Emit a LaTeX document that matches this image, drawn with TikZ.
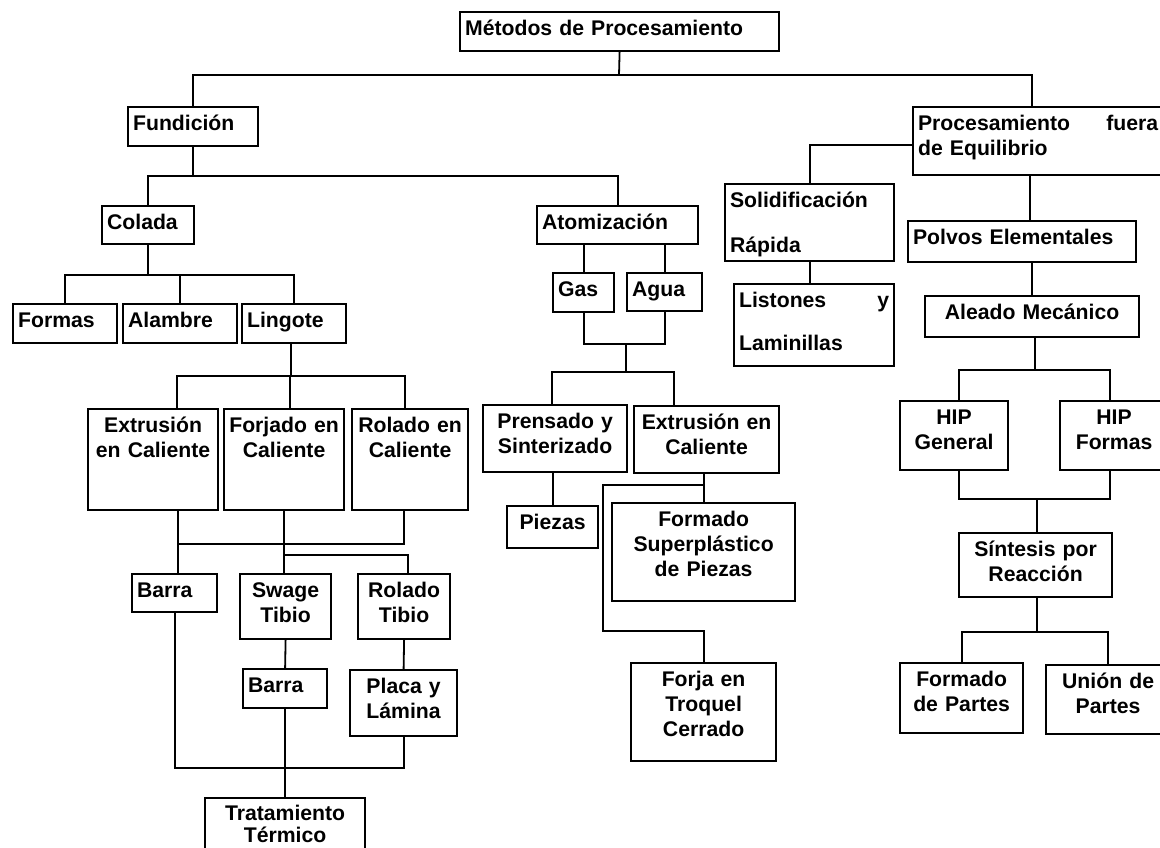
\documentclass[tikz,border=0pt]{standalone}
\usepackage{fontspec}
\setmainfont{Liberation Sans}
\tikzset{
  box/.style={draw, line width=2.2pt, anchor=north west, inner xsep=5pt, inner ysep=0pt,
    text height=23pt, font=\fontsize{21.2}{25}\selectfont\bfseries},
  lbox/.style={box, align=left},
  cbox/.style={box, align=center},
  link/.style={line width=1.8pt}
}
\begin{document}
\begin{tikzpicture}[x=1pt,y=-1pt]
      \path[use as bounding box, fill=white] (0,0) rectangle (1160,848);
      \clip (0,0) rectangle (1160,848);
      \node[lbox, text width=309pt, text depth=16pt] (met) at (459,11) {Métodos de Procesamiento};
      \node[lbox, text width=120pt, text depth=16pt] (fund) at (127,106) {Fundición};
      \node[lbox, text width=240pt, text depth=45pt] (pfe) at (912,106) {Procesamiento\hfill fuera\\de Equilibrio};
      \node[lbox, text width=82pt, text depth=15pt] (col) at (101,205) {Colada};
      \node[lbox, text width=151pt, text depth=15pt] (atom) at (536,205) {Atomización};
      \node[lbox, text width=159pt, text depth=54pt] (sol) at (724,183) {Solidificación\\[20pt]Rápida};
      \node[lbox, text width=218pt, text depth=18pt] (pol) at (907,220) {Polvos Elementales};
      \node[lbox, text width=51pt, text depth=16pt] (gas) at (552,272) {Gas};
      \node[lbox, text width=65pt, text depth=15pt] (agua) at (626,272) {Agua};
      \node[lbox, text width=150pt, text depth=59pt] (lis) at (733,283) {Listones\hfill y\\[18pt]Laminillas};
      \node[cbox, text width=204pt, text depth=18pt] (ale) at (924,295) {Aleado Mecánico};
      \node[lbox, text width=94pt, text depth=16pt] (formas) at (12,303) {Formas};
      \node[lbox, text width=104pt, text depth=16pt] (alam) at (122,303) {Alambre};
      \node[lbox, text width=94pt, text depth=16pt] (ling) at (241,303) {Lingote};
      \node[cbox, text width=120pt, text depth=78pt] (extA) at (87,408) {Extrusión\\en Caliente};
      \node[cbox, text width=110pt, text depth=78pt] (forj) at (223,408) {Forjado en\\Caliente};
      \node[cbox, text width=106pt, text depth=78pt] (rolA) at (351,408) {Rolado en\\Caliente};
      \node[cbox, text width=134pt, text depth=44pt] (pren) at (482,404) {Prensado y\\Sinterizado};
      \node[cbox, text width=135pt, text depth=44pt] (extB) at (633,405) {Extrusión en\\Caliente};
      \node[cbox, text width=98pt, text depth=46pt] (hipg) at (899,400) {HIP\\General};
      \node[cbox, text width=98pt, text depth=46pt] (hipf) at (1059,400) {HIP\\Formas};
      \node[cbox, text width=81pt, text depth=19pt] (piez) at (506,505) {Piezas};
      \node[cbox, text width=173pt, text depth=75pt] (form) at (611,502) {Formado\\Superplástico\\de Piezas};
      \node[cbox, text width=143pt, text depth=41pt] (sint) at (958,532) {Síntesis por\\Reacción};
      \node[lbox, text width=75pt, text depth=15pt] (barA) at (131,573) {Barra};
      \node[cbox, text width=81pt, text depth=42pt] (swag) at (239,573) {Swage\\Tibio};
      \node[cbox, text width=82pt, text depth=42pt] (rolB) at (357,573) {Rolado\\Tibio};
      \node[cbox, text width=135pt, text depth=75pt] (forja) at (630,662) {Forja en\\Troquel\\Cerrado};
      \node[cbox, text width=113pt, text depth=47pt] (fpar) at (899,662) {Formado\\de Partes};
      \node[cbox, text width=114pt, text depth=46pt] (upar) at (1045,664) {Unión de\\Partes};
      \node[lbox, text width=74pt, text depth=16pt] (barB) at (242,668) {Barra};
      \node[cbox, text width=97pt, text depth=43pt] (plac) at (349,669) {Placa y\\Lámina};
      \node[cbox, text width=150pt, text height=22pt, text depth=48pt] (trat) at (204,797) {Tratamiento\\[-3pt]Térmico};
      \coordinate (j0) at (619,75);
      \coordinate (j4) at (626,372);
      \coordinate (k1) at (603,631);
      \begin{scope}[link]
        \draw (met.south) -- (j0);
        \draw (fund.north) |- (j0) -| ([xshift=-6pt]pfe.north);
        \draw (fund.south) -- ++(0,29) coordinate (j1);
        \draw (col.north) |- (j1) -| (atom.north);
        \draw (col.south) -- ++(0,30) coordinate (j2);
        \draw (formas.north) |- (j2) -| (ling.north);
        \draw (alam.north) -- (alam.north |- j2);
        \draw (gas.north) -- (gas.north |- atom.south);
        \draw (agua.north) -- (agua.north |- atom.south);
        \draw (gas.south) -- ++(0,31) coordinate (j3) -| (agua.south);
        \draw (j4) -- (j4 |- j3);
        \draw ([xshift=-3pt]pren.north) |- (j4) -| ([xshift=-33pt]extB.north);
        \draw (piez.north) -- (piez.north |- pren.south);
        \draw (form.north) -- (form.north |- extB.south);
        \draw (form.north |- 0,485) -| (k1) -| (forja.north);
        \draw ([xshift=-3pt]ling.south) -- ++(0,32) coordinate (j5);
        \draw ([xshift=24pt]extA.north) |- (j5) -| ([xshift=-5pt]rolA.north);
        \draw ([xshift=6pt]forj.north) -- ([xshift=6pt]forj.north |- j5);
        \draw ([xshift=-6pt]rolA.south) -- ++(0,33) -| ([xshift=25pt]extA.south);
        \draw ([xshift=25pt]extA.south) -- ([xshift=25pt]extA.south |- barA.north);
        \draw (forj.south) -- (forj.south |- swag.north);
        \draw (forj.south |- 0,555) -| ([xshift=4pt]rolB.north);
        \draw (swag.south) -- (barB.north);
        \draw (rolB.south) -- (plac.north);
        \draw (barA.south) -- ++(0,155) -| (plac.south);
        \draw (barB.south) -- (trat.north);
        \draw ([yshift=-4pt]pfe.west) -| (sol.north);
        \draw (sol.south) -- (sol.south |- lis.north);
        \draw ([xshift=-8pt]pfe.south) -- ([xshift=-8pt]pfe.south |- pol.north);
        \draw (ale.north) -- (ale.north |- pol.south);
        \draw ([xshift=3pt]ale.south) -- ++(0,32) coordinate (j7);
        \draw ([xshift=5pt]hipg.north) |- (j7) -| ([xshift=-4pt]hipf.north);
        \draw ([xshift=5pt]hipg.south) -- ++(0,28) coordinate (j8) -| ([xshift=-4pt]hipf.south);
        \draw ([xshift=1pt]sint.north) -- ([xshift=1pt]sint.north |- j8);
        \draw ([xshift=1pt]sint.south) -- ++(0,34) coordinate (j9);
        \draw (fpar.north) |- (j9) -| (upar.north);
      \end{scope}
    \end{tikzpicture}
\end{document}
